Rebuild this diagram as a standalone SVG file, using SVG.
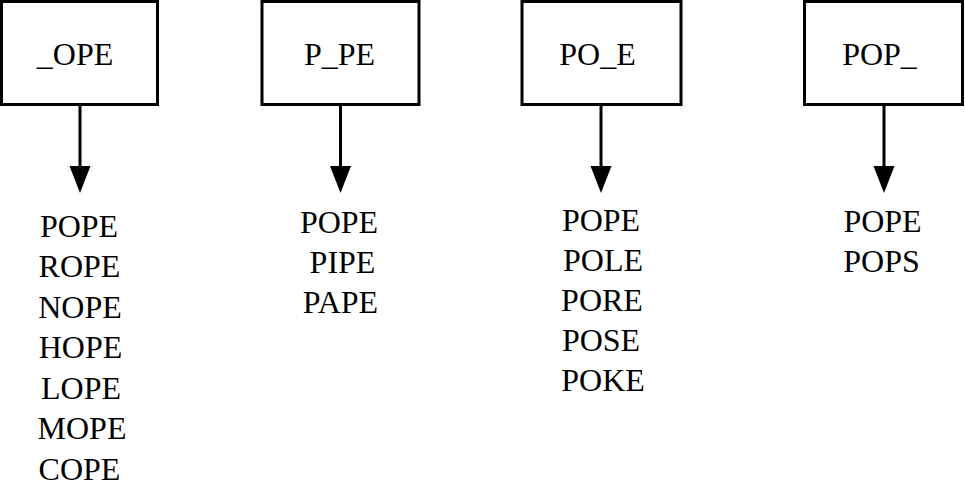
<svg xmlns="http://www.w3.org/2000/svg" width="965" height="492" viewBox="0 0 965 492">
<style>
.box{fill:#fff;stroke:#000;stroke-width:3}
.lbl{font-size:32px;fill:#000;text-anchor:middle}
.edge{stroke:#000;stroke-width:3;fill:none}
.head{fill:#000}
</style>
<rect width="965" height="492" fill="#fff"/>
<g font-family="'Liberation Serif', 'Times New Roman', serif">
<g id="node1">
<rect class="box" x="1.5" y="1.5" width="156" height="103"/>
<text class="lbl" x="75" y="65">_OPE</text>
</g>
<g id="node2">
<rect class="box" x="262" y="1.5" width="157" height="103"/>
<text class="lbl" x="339.5" y="65">P_PE</text>
</g>
<g id="node3">
<rect class="box" x="522" y="1.5" width="159" height="103"/>
<text class="lbl" x="597.5" y="65">PO_E</text>
</g>
<g id="node4">
<rect class="box" x="804.5" y="1.5" width="158" height="103"/>
<text class="lbl" x="879.5" y="65">POP_</text>
</g>
<g id="connectors">
<line class="edge" x1="80" y1="104.5" x2="80" y2="167"/>
<polygon class="head" points="69.5,166 90.5,166 80,193"/>
<line class="edge" x1="340.5" y1="104.5" x2="340.5" y2="167"/>
<polygon class="head" points="330,166 351,166 340.5,193"/>
<line class="edge" x1="601" y1="104.5" x2="601" y2="167"/>
<polygon class="head" points="590.5,166 611.5,166 601,193"/>
<line class="edge" x1="884" y1="104.5" x2="884" y2="167"/>
<polygon class="head" points="873.5,166 894.5,166 884,193"/>
</g>
<g id="list1">
<text class="lbl" x="79" y="237">POPE</text>
<text class="lbl" x="79.5" y="277">ROPE</text>
<text class="lbl" x="80" y="318">NOPE</text>
<text class="lbl" x="80.5" y="358">HOPE</text>
<text class="lbl" x="81" y="399">LOPE</text>
<text class="lbl" x="82" y="439">MOPE</text>
<text class="lbl" x="79.5" y="480">COPE</text>
</g>
<g id="list2">
<text class="lbl" x="339" y="233">POPE</text>
<text class="lbl" x="342.5" y="273">PIPE</text>
<text class="lbl" x="340.5" y="313">PAPE</text>
</g>
<g id="list3">
<text class="lbl" x="601" y="231">POPE</text>
<text class="lbl" x="603" y="271">POLE</text>
<text class="lbl" x="602" y="311">PORE</text>
<text class="lbl" x="601" y="351">POSE</text>
<text class="lbl" x="603" y="391">POKE</text>
</g>
<g id="list4">
<text class="lbl" x="882.5" y="232">POPE</text>
<text class="lbl" x="881.5" y="272">POPS</text>
</g>
</g>
</svg>
